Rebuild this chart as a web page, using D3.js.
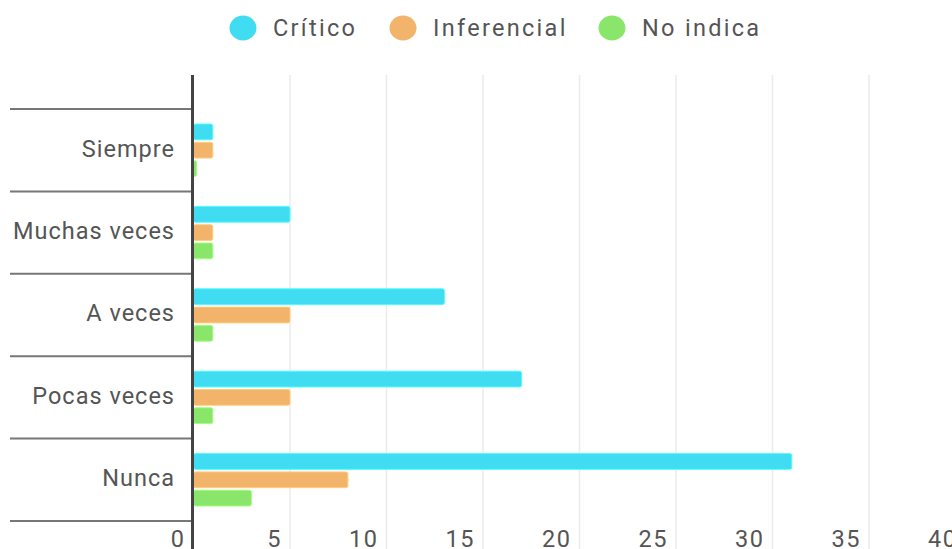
<!DOCTYPE html>
<html>
<head>
<meta charset="utf-8">
<script src="https://cdn.jsdelivr.net/npm/d3@7"></script>
<style>
  html, body { margin: 0; padding: 0; background: #fff; }
  svg { display: block; font-family: Roboto, "Noto Sans", sans-serif; }
</style>
</head>
<body>
<svg id="chart" width="952" height="549"></svg>
<script>
// Chart data
const categories = ["Siempre", "Muchas veces", "A veces", "Pocas veces", "Nunca"];
const seriesNames = ["Crítico", "Inferencial", "No indica"];
const critico = [1, 5, 13, 17, 31];
const inferencial = [1, 1, 5, 5, 8];
const noIndica = [0, 1, 1, 1, 3];
const tickValues = [0, 5, 10, 15, 20, 25, 30, 35, 40];
const colours = ["#40dcf2", "#f2b36b", "#8ae66a"];

// Build rows from the arrays
const rows = categories.map((c, i) => ({
  category: c,
  values: [critico[i], inferencial[i], noIndica[i]]
}));

const svg = d3.select("#chart");
const width = 952, height = 549;

// Scales
const x = d3.scaleLinear().domain([0, 40]).range([193.5, 965.5]);
const y = d3.scaleBand().domain(categories).range([109, 521]);
const yInner = d3.scaleBand()
  .domain(seriesNames)
  .range([15, y.bandwidth() - 15])
  .paddingInner(0.14);

// Gridlines
svg.append("g")
  .selectAll("line")
  .data(tickValues.filter(d => d > 0))
  .join("line")
  .attr("x1", d => x(d)).attr("x2", d => x(d))
  .attr("y1", 75).attr("y2", height)
  .attr("stroke", "#ebebeb")
  .attr("stroke-width", 1.5);

// Category separators
const bounds = categories.map(c => y(c)).concat([y.range()[1]]);
svg.append("g")
  .selectAll("line")
  .data(bounds)
  .join("line")
  .attr("x1", 10).attr("x2", x(0))
  .attr("y1", d => d).attr("y2", d => d)
  .attr("stroke", "#777")
  .attr("stroke-width", 2);

// Category labels
svg.append("g")
  .selectAll("text")
  .data(categories)
  .join("text")
  .attr("x", 175)
  .attr("y", d => y(d) + y.bandwidth() / 2)
  .attr("dy", "0.27em")
  .attr("text-anchor", "end")
  .attr("font-size", 23.5)
  .attr("letter-spacing", 1)
  .attr("fill", "#555")
  .text(d => d);

// Bars
const group = svg.append("g")
  .selectAll("g")
  .data(rows)
  .join("g")
  .attr("transform", d => `translate(0, ${y(d.category)})`);

group.selectAll("rect")
  .data(d => d.values.map((v, i) => ({ series: seriesNames[i], value: v, i })))
  .join("rect")
  .attr("x", x(0))
  .attr("y", d => yInner(d.series))
  .attr("width", d => Math.max(x(d.value) - x(0), 3))
  .attr("height", yInner.bandwidth())
  .attr("rx", 2)
  .attr("fill", d => colours[d.i])
  .attr("stroke", d => d3.color(colours[d.i]).brighter(0.4))
  .attr("stroke-width", 1);

// Value axis line
svg.append("line")
  .attr("x1", x(0) - 1).attr("x2", x(0) - 1)
  .attr("y1", 75).attr("y2", height)
  .attr("stroke", "#444")
  .attr("stroke-width", 3);

// Tick labels (right aligned, left of each tick)
svg.append("g")
  .selectAll("text")
  .data(tickValues)
  .join("text")
  .attr("x", d => x(d) - 8)
  .attr("y", 547)
  .attr("text-anchor", "end")
  .attr("font-size", 23.5)
  .attr("letter-spacing", 1.5)
  .attr("fill", "#555")
  .text(d => d);

// Legend
const legendX = [243, 403, 612];
const legend = svg.append("g")
  .selectAll("g")
  .data(seriesNames)
  .join("g")
  .attr("transform", (d, i) => `translate(${legendX[i]}, 28)`);
legend.append("ellipse")
  .attr("rx", 13.5).attr("ry", 12.5)
  .attr("fill", (d, i) => colours[i]);
legend.append("text")
  .attr("x", 30)
  .attr("dy", "0.35em")
  .attr("font-size", 23.5)
  .attr("letter-spacing", 2.3)
  .attr("fill", "#555")
  .text(d => d);
</script>
</body>
</html>
